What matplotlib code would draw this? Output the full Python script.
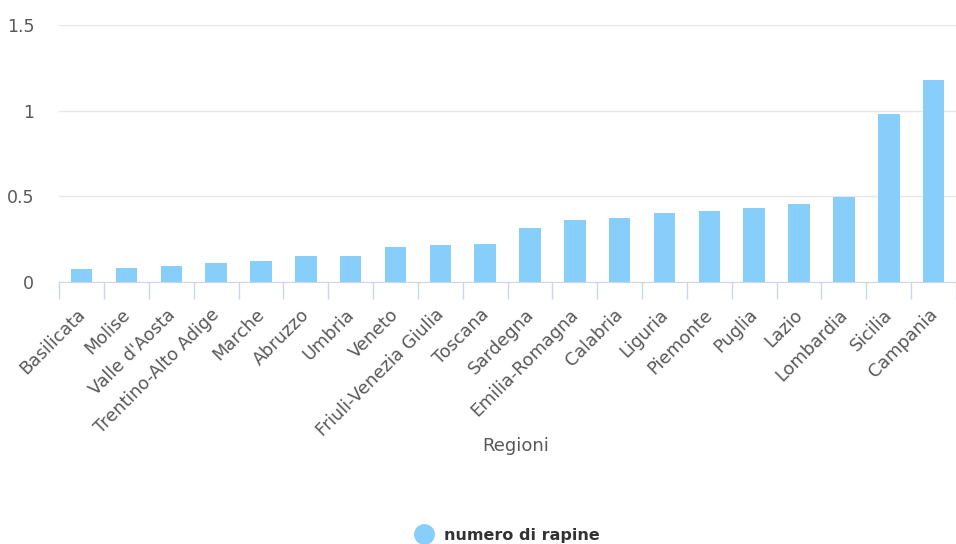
import matplotlib
matplotlib.use('Agg')
import matplotlib.pyplot as plt
import matplotlib.transforms as mtransforms
from matplotlib.lines import Line2D

regioni = ['Basilicata', 'Molise', "Valle d'Aosta", 'Trentino-Alto Adige', 'Marche',
           'Abruzzo', 'Umbria', 'Veneto', 'Friuli-Venezia Giulia', 'Toscana',
           'Sardegna', 'Emilia-Romagna', 'Calabria', 'Liguria', 'Piemonte',
           'Puglia', 'Lazio', 'Lombardia', 'Sicilia', 'Campania']
rapine = [0.074, 0.084, 0.094, 0.113, 0.123, 0.152, 0.152, 0.203, 0.214, 0.224,
          0.314, 0.364, 0.374, 0.405, 0.415, 0.435, 0.456, 0.497, 0.98, 1.18]
y_ticks = [0, 0.5, 1, 1.5]
y_labels = ['0', '0.5', '1', '1.5']

plt.rcParams['font.family'] = ['DejaVu Sans']
bar_color = '#87cefa'
text_color = '#595959'
axis_color = '#ccd6eb'

fig = plt.figure(figsize=(9.56, 5.44), dpi=100)
fig.patch.set_facecolor('white')
ax = fig.add_axes([0.062, 0.4816, 0.938, 0.472])

x = list(range(len(regioni)))
ax.bar(x, rapine, width=0.48, color=bar_color, zorder=3)

ax.set_xlim(-0.5, len(regioni) - 0.5)
ax.set_ylim(0, 1.5)
ax.set_yticks(y_ticks)
ax.set_yticklabels(y_labels)
ax.grid(axis='y', color='#e6e6e6', linewidth=1, zorder=0)
ax.tick_params(axis='y', length=0, labelsize=12.5, labelcolor=text_color, pad=18)

# category ticks sit between bars
ax.set_xticks([i - 0.5 for i in range(len(regioni) + 1)], minor=True)
ax.tick_params(axis='x', which='minor', length=12, color=axis_color, width=1)
ax.set_xticks(x)
ax.set_xticklabels(regioni, rotation=45, ha='right', va='top', rotation_mode='anchor')
ax.tick_params(axis='x', which='major', length=0, labelsize=12.7,
               labelcolor=text_color, pad=17)
shift = mtransforms.ScaledTranslation(-4 / 72, 0, fig.dpi_scale_trans)
for lab in ax.get_xticklabels():
    lab.set_transform(lab.get_transform() + shift)

for side in ['top', 'right', 'left']:
    ax.spines[side].set_visible(False)
ax.spines['bottom'].set_color(axis_color)

fig.text(0.539, 0.18, 'Regioni', ha='center', va='center', fontsize=13, color=text_color)

handle = Line2D([], [], marker='o', linestyle='none', markersize=14,
                markerfacecolor=bar_color, markeredgecolor=bar_color)
fig.legend([handle], ['numero di rapine'], loc='center', bbox_to_anchor=(0.527, 0.016),
           frameon=False, prop={'weight': 'bold', 'size': 11.5}, labelcolor='#333333',
           handletextpad=0.3)

plt.savefig('out.png', dpi=100, facecolor='white')
